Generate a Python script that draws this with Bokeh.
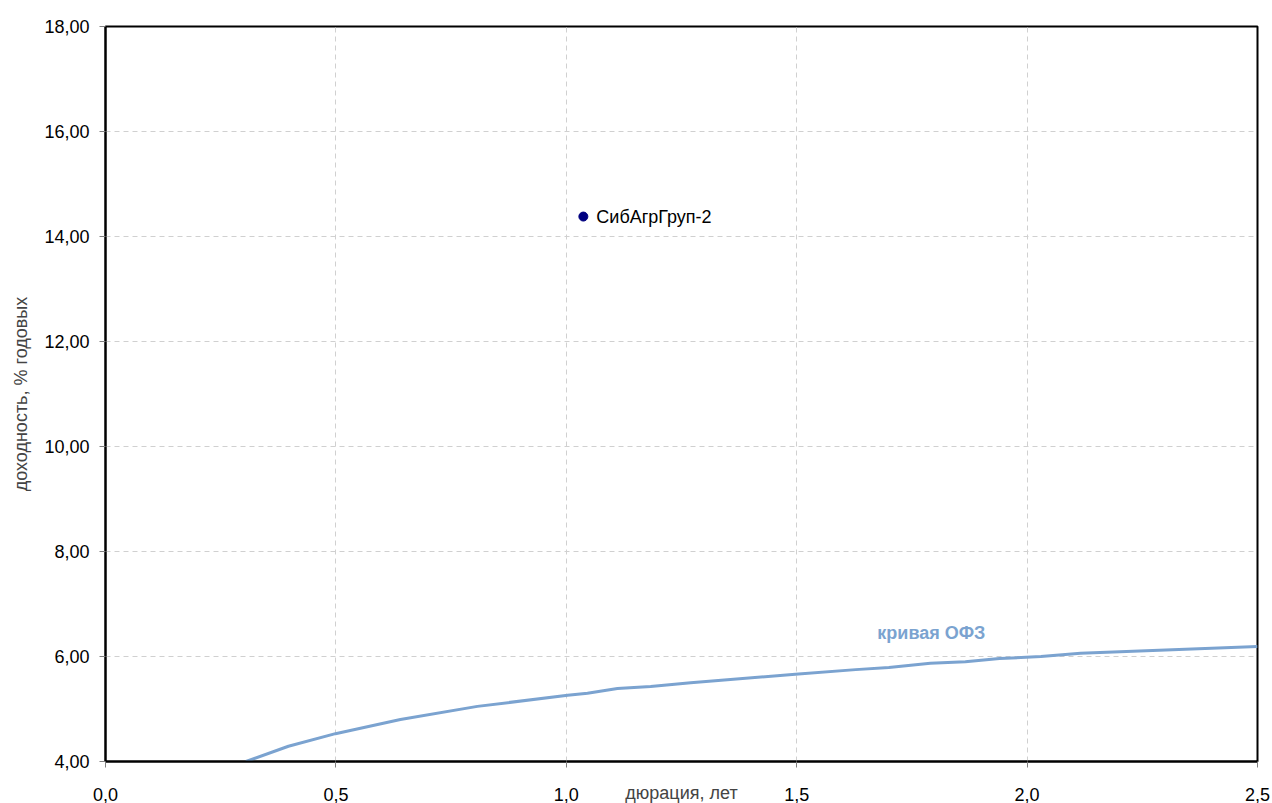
from bokeh.plotting import figure
from bokeh.models import Range1d, Label, FixedTicker, CustomJSTickFormatter
from bokeh.embed import file_html
from bokeh.resources import INLINE

# OFZ curve (duration, yield)
ofz_x = [0.305, 0.397, 0.499, 0.640, 0.807, 1.003, 1.046, 1.111, 1.183, 1.27, 1.497, 1.628, 1.70, 1.79, 1.866, 1.94, 2.03, 2.116, 2.50]
ofz_y = [4.00, 4.29, 4.53, 4.80, 5.05, 5.26, 5.30, 5.39, 5.43, 5.50, 5.66, 5.75, 5.79, 5.87, 5.90, 5.96, 6.00, 6.06, 6.19]

bond_names = ["СибАгрГруп-2"]
bond_x = [1.037]
bond_y = [14.38]

x_ticks = [0.0, 0.5, 1.0, 1.5, 2.0, 2.5]
y_ticks = [4, 6, 8, 10, 12, 14, 16, 18]

FONT = "Liberation Sans"
FS = "18px"

p = figure(frame_width=1152, frame_height=735, output_backend="svg", toolbar_location=None,
           x_range=Range1d(0, 2.5), y_range=Range1d(4, 18),
           min_border_left=105, min_border_right=15, min_border_top=26, min_border_bottom=42)
p.outline_line_color = "black"
p.outline_line_width = 2
p.background_fill_color = "white"
p.border_fill_color = "white"

for ax in (p.xaxis[0], p.yaxis[0]):
    ax.axis_line_color = "black"
    ax.axis_line_width = 2
    ax.major_tick_line_color = "#808080"
    ax.major_tick_line_width = 1
    ax.major_tick_out = 6
    ax.major_tick_in = 0
    ax.minor_tick_line_color = None
    ax.major_label_text_font = FONT
    ax.major_label_text_font_size = FS
    ax.major_label_text_color = "black"

p.xaxis.ticker = FixedTicker(ticks=x_ticks)
p.yaxis.ticker = FixedTicker(ticks=y_ticks)
p.xaxis.formatter = CustomJSTickFormatter(code="return tick.toFixed(1).replace('.', ',');")
p.yaxis.formatter = CustomJSTickFormatter(code="return tick.toFixed(2).replace('.', ',');")
p.xaxis.major_label_standoff = 20
p.yaxis.major_label_standoff = 10

p.yaxis.axis_label = "доходность, % годовых"
p.yaxis.axis_label_text_font = FONT
p.yaxis.axis_label_text_font_style = "normal"
p.yaxis.axis_label_text_font_size = FS
p.yaxis.axis_label_standoff = 10

p.xaxis.axis_label = "дюрация, лет"
p.xaxis.axis_label_text_font = FONT
p.xaxis.axis_label_text_font_style = "normal"
p.xaxis.axis_label_text_font_size = FS
p.xaxis.axis_label_standoff = -21

p.xgrid.grid_line_color = "#D0D0D0"
p.ygrid.grid_line_color = "#D0D0D0"
p.xgrid.grid_line_dash = "5 4"
p.ygrid.grid_line_dash = "5 4"

p.line(ofz_x, ofz_y, line_color="#7BA3D0", line_width=3)
p.scatter(bond_x, bond_y, size=9, fill_color="#000080", line_color="#000080")

for n, bx, by in zip(bond_names, bond_x, bond_y):
    p.add_layout(Label(x=bx, y=by, text=n, x_offset=13, text_baseline="middle",
                       text_font=FONT, text_font_size=FS, text_color="black"))

p.add_layout(Label(x=1.675, y=6.44, text="кривая ОФЗ", text_baseline="middle",
                   text_font=FONT, text_font_size=FS, text_font_style="bold",
                   text_color="#7BA3D0"))

open("out.html", "w").write(file_html(p, INLINE))
